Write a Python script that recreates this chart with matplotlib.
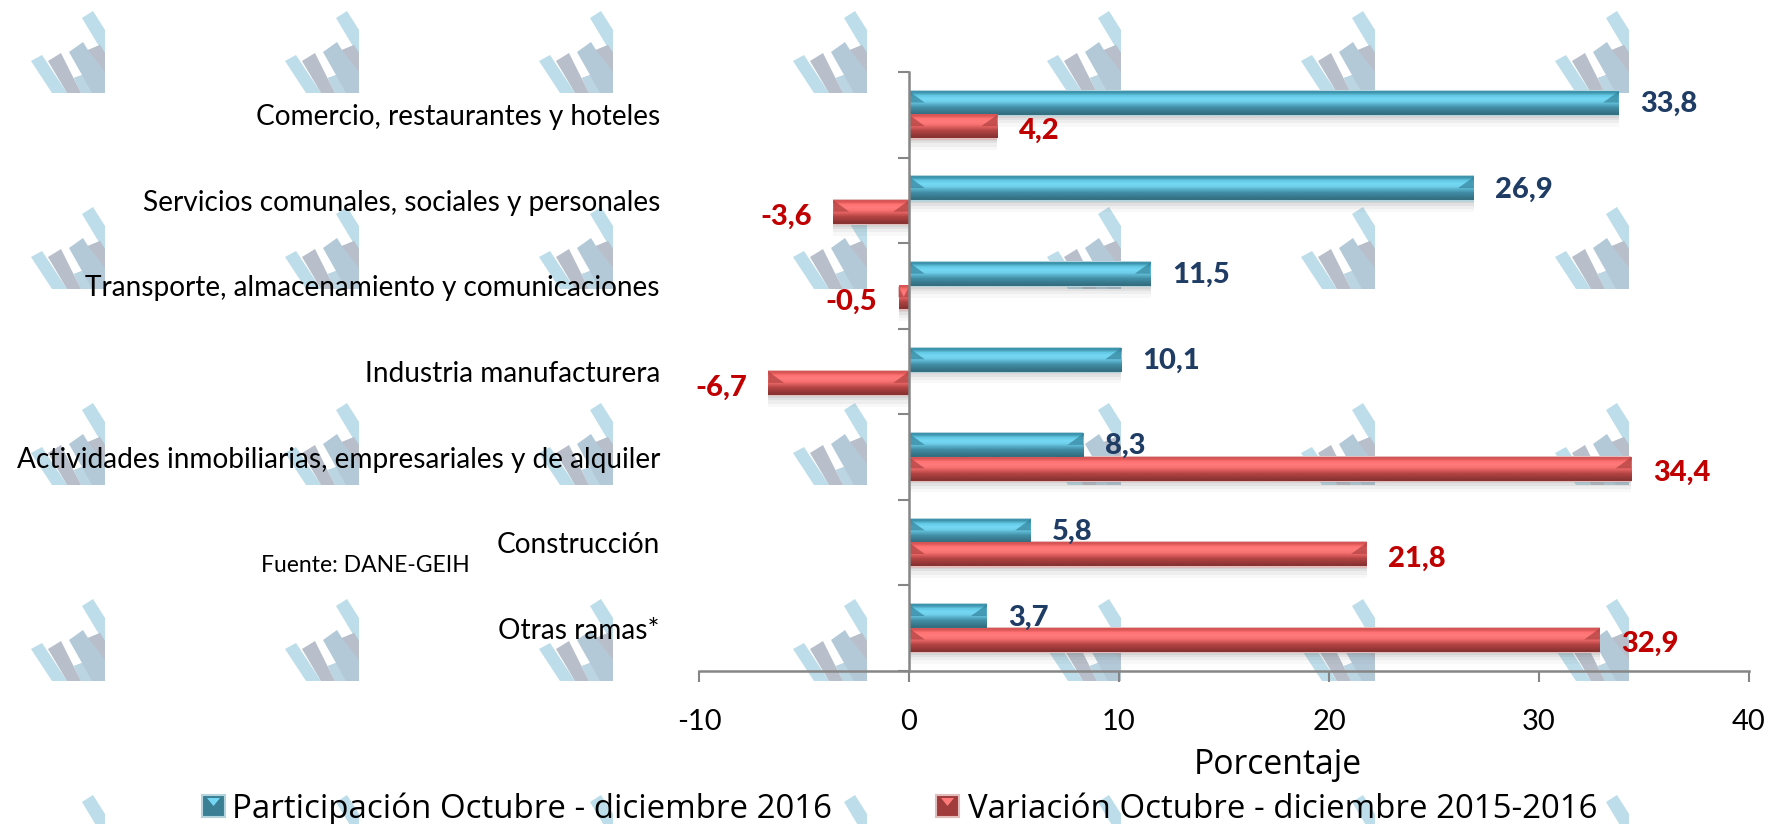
import numpy as np
import matplotlib
matplotlib.use('Agg')
import matplotlib.pyplot as plt
from matplotlib.colors import to_rgb
from matplotlib.patches import Polygon, Rectangle

plt.rcParams['font.family'] = ['Lato', 'DejaVu Sans']

W, H = 1770, 824

categorias = ['Comercio, restaurantes y hoteles',
              'Servicios comunales, sociales y personales',
              'Transporte, almacenamiento y comunicaciones',
              'Industria manufacturera',
              'Actividades inmobiliarias, empresariales y de alquiler',
              'Construcción',
              'Otras ramas*']
participacion = [33.8, 26.9, 11.5, 10.1, 8.3, 5.8, 3.7]
variacion = [4.2, -3.6, -0.5, -6.7, 34.4, 21.8, 32.9]
ticks_x = [-10, 0, 10, 20, 30, 40]
serie_1 = 'Participación Octubre - diciembre 2016'
serie_2 = 'Variación Octubre - diciembre 2015-2016'

# bisel de arriba hacia abajo
azul = ['#3f94ad', '#62c8e4', '#74d8f4', '#70d0ec', '#56adc6', '#428ea6', '#3b7f94', '#346f82']
rojo = ['#d85555', '#ff7272', '#ff7a7a', '#f97272', '#d85a5a', '#b34444', '#a03c3c', '#8a3333']
borde_azul = '#b5d3dc'
borde_rojo = '#e3bcbc'
esquina_azul = '#2f7d94'
esquina_rojo = '#a83c3c'


def px(x, y):
    return x / W, 1 - y / H


def marca(fig, x0, y0):
    # logo de fondo, se repite en toda la hoja
    capas = [
        ('#bcdde9', [(1, 51), (12, 45), (37, 83), (22, 83)]),
        ('#bcdde9', [(52, 8), (63, 1), (75, 20), (75, 45), (67, 33)]),
        ('#b4c9d8', [(39, 42), (53, 32), (58, 40), (70, 35), (75, 43), (75, 83), (51, 83),
                     (44, 68), (52, 65)]),
        ('#b8bfca', [(18, 51), (31, 43), (51, 83), (37, 83)]),
        ('#b8bfca', [(58, 40), (70, 35), (75, 43), (75, 62)]),
        ('#bcd5e3', [(44, 68), (52, 65), (62, 83), (51, 83)]),
    ]
    for color, pts in capas:
        fig.add_artist(Polygon([px(x0 + a, y0 + b) for a, b in pts], closed=True,
                               transform=fig.transFigure, fc=color, ec='none', zorder=0))


def barra(ax, y, v, alto, cols, borde, esquina):
    # sombra difusa debajo
    for k, a in [(0.5, 0.05), (0.36, 0.07), (0.22, 0.10), (0.12, 0.12)]:
        ax.barh(y + alto * k, v, alto, color='#777777', alpha=a, zorder=2, lw=0)
    ax.barh(y, v, alto * 1.12, color=borde, zorder=3, lw=0)
    grad = np.array([to_rgb(c) for c in cols]).reshape(-1, 1, 3)
    ax.imshow(grad, extent=(0, v, y + alto / 2, y - alto / 2), aspect='auto',
              interpolation='bilinear', zorder=4)
    # esquinas del bisel, solo en la mitad de arriba
    c = min(0.75, abs(v) / 2) * np.sign(v)
    arriba = y - alto / 2
    medio = y - alto * 0.02
    ax.add_patch(Polygon([(0, arriba), (c, medio), (0, medio)], fc=esquina, ec='none', alpha=0.65, zorder=5))
    ax.add_patch(Polygon([(v, arriba), (v - c, medio), (v, medio)], fc=esquina, ec='none', alpha=0.65, zorder=5))


fig = plt.figure(figsize=(W / 100, H / 100), dpi=100)
fig.patch.set_facecolor('white')

for fila in [10, 206, 402, 598, 794]:
    for col in [30, 284, 538, 792, 1046, 1300, 1554]:
        marca(fig, col, fila)

ax = fig.add_axes([699 / W, 1 - 671 / H, 1050 / W, 599 / H])
ax.patch.set_alpha(0)
ax.set_zorder(2)

alto = 0.275
for i in range(len(categorias)):
    barra(ax, i - alto / 2, participacion[i], alto, azul, borde_azul, esquina_azul)
    barra(ax, i + alto / 2, variacion[i], alto, rojo, borde_rojo, esquina_rojo)

ax.set_xlim(-10, 40)
ax.set_ylim(6.5, -0.5)

for s in ['top', 'right']:
    ax.spines[s].set_visible(False)
ax.spines['left'].set_position(('data', 0))
ax.spines['left'].set_color('#868686')
ax.spines['left'].set_linewidth(1.8)
ax.spines['left'].set_zorder(6)
ax.spines['bottom'].set_color('#868686')
ax.spines['bottom'].set_linewidth(1.8)

ax.set_xticks(ticks_x)
ax.set_xticklabels([str(t) for t in ticks_x], fontsize=21, color='black')
ax.tick_params(axis='x', direction='out', length=8, width=1.5, color='#868686', pad=19)
ax.set_yticks(np.arange(-0.5, 7, 1))
ax.set_yticklabels([])
ax.tick_params(axis='y', direction='out', length=8, width=1.5, color='#868686')
ax.set_xlabel('Porcentaje', fontsize=24.3, labelpad=10, x=0.551, family='Open Sans')

# etiquetas de categoria a la izquierda
for i, c in enumerate(categorias):
    ax.text(-11.86, i + 0.03, c, ha='right', va='center', fontsize=20.2, color='black',
            clip_on=False)

azul_txt = '#1f3c64'
rojo_txt = '#c00000'
for i in range(len(categorias)):
    ax.text(participacion[i] + 1.02, i - alto / 2 + 0.01, f'{participacion[i]:.1f}'.replace('.', ','),
            ha='left', va='center', fontsize=21, fontweight='black', color=azul_txt, zorder=7)
    v = variacion[i]
    etiqueta = f'{v:.1f}'.replace('.', ',')
    if v >= 0:
        ax.text(v + 1.02, i + alto / 2 + 0.05, etiqueta, ha='left', va='center', fontsize=21,
                fontweight='black', color=rojo_txt, zorder=7)
    else:
        ax.text(v - 1.02, i + alto / 2 + 0.05, etiqueta, ha='right', va='center', fontsize=21,
                fontweight='black', color=rojo_txt, zorder=7)

fig.text(*px(261, 566), 'Fuente: DANE-GEIH', fontsize=16.5, va='center', color='black')

# leyenda a mano, con el cuadrito biselado
for x0, xt, cols, borde, txt in [(202, 232, azul, borde_azul, serie_1),
                                 (936, 968, rojo, borde_rojo, serie_2)]:
    fig.add_artist(Rectangle(px(x0, 817), 23 / W, 22 / H, transform=fig.transFigure,
                             fc=cols[6], ec=borde, lw=1.5, zorder=3))
    fig.add_artist(Polygon([px(x0 + 5, 798), px(x0 + 18, 798), px(x0 + 11.5, 806)],
                           transform=fig.transFigure, fc=cols[2], ec='none', zorder=4))
    fig.text(*px(xt, 818), txt, fontsize=23.8, va='baseline', color='black', zorder=5,
             family='Open Sans')

fig.savefig('out.png', dpi=100)
